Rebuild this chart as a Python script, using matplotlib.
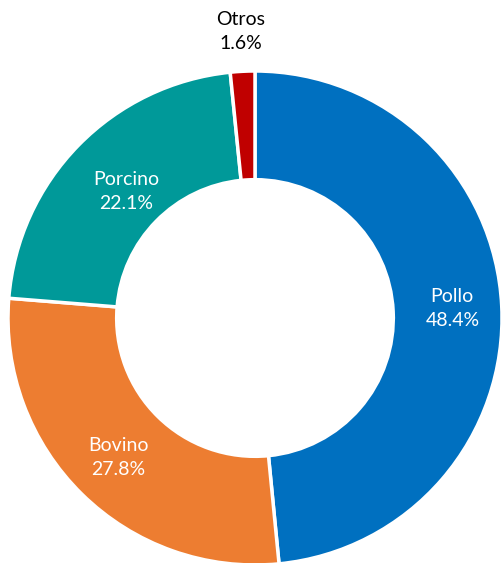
import numpy as np
import matplotlib
matplotlib.use("Agg")
import matplotlib.pyplot as plt

categories = ["Pollo", "Bovino", "Porcino", "Otros"]
values = [48.4, 27.8, 22.1, 1.6]
colors = ["#0070C0", "#ED7D31", "#009999", "#C00000"]
text_colors = ["white", "white", "white", "black"]
label_radius = [0.80, 0.79, 0.73, 1.16]

plt.rcParams['font.family'] = ['Lato', 'DejaVu Sans']

W, H = 502, 563
fig = plt.figure(figsize=(W / 100, H / 100), dpi=100)
cx, cy, r = 255, 318, 247
ax = fig.add_axes([(cx - r) / W, (H - cy - r) / H, 2 * r / W, 2 * r / H])
ax.axis("off")

wedges, _ = ax.pie(values, colors=colors, startangle=90, counterclock=False,
                   radius=1.0, wedgeprops=dict(width=0.44, edgecolor="white", linewidth=2.5))
ax.set_xlim(-1, 1)
ax.set_ylim(-1, 1)
ax.set_aspect("auto")

for w, cat, v, tc, rr in zip(wedges, categories, values, text_colors, label_radius):
    ang = np.deg2rad((w.theta1 + w.theta2) / 2)
    x, y = rr * np.cos(ang), rr * np.sin(ang)
    ax.text(x, y, f"{cat}\n{v:.1f}%", ha="center", va="center", color=tc,
            fontsize=14, linespacing=1.5, clip_on=False)

fig.savefig("out.png", dpi=100)
